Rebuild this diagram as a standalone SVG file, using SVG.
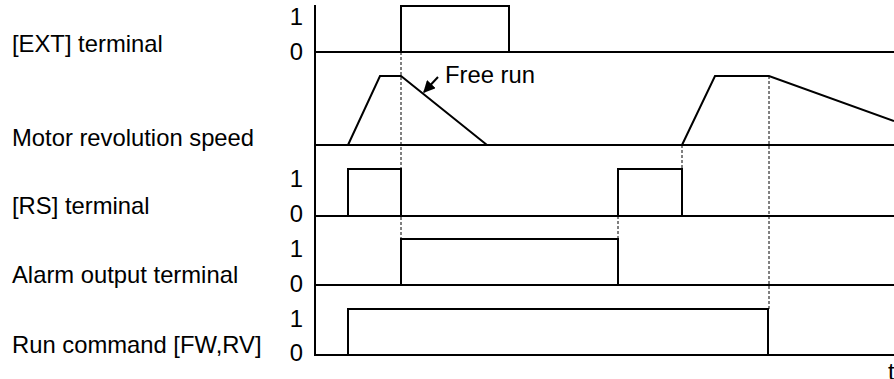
<svg xmlns="http://www.w3.org/2000/svg" width="894" height="379" viewBox="0 0 894 379">
<style>
text{font-family:"Liberation Sans",Arial,sans-serif;font-size:23.8px;fill:#000}
.d{text-anchor:end}
.w{fill:none;stroke:#000;stroke-width:2}
.dash{fill:none;stroke:#000;stroke-width:1;stroke-dasharray:3 2}
</style>
<defs>
<marker id="ah" viewBox="0 0 10 10" refX="9" refY="5" markerWidth="12" markerHeight="12" markerUnits="userSpaceOnUse" orient="auto">
<path d="M0,0 L10,5 L0,10 z" fill="#000"/>
</marker>
</defs>
<rect width="894" height="379" fill="#fff"/>
<g id="labels">
<text x="12" y="52">[EXT] terminal</text>
<text x="12" y="146">Motor revolution speed</text>
<text x="12" y="214">[RS] terminal</text>
<text x="12" y="283">Alarm output terminal</text>
<text x="12" y="353">Run command [FW,RV]</text>
<text class="d" x="303" y="25">1</text>
<text class="d" x="303" y="60">0</text>
<text class="d" x="303" y="187">1</text>
<text class="d" x="303" y="222">0</text>
<text class="d" x="303" y="257">1</text>
<text class="d" x="303" y="292">0</text>
<text class="d" x="303" y="327">1</text>
<text class="d" x="303" y="361">0</text>
<text x="888" y="380">t</text>
</g>
<g id="connectors">
<line class="dash" x1="401" y1="52" x2="401" y2="239"/>
<line class="dash" x1="682" y1="145" x2="682" y2="169"/>
<line class="dash" x1="618" y1="216" x2="618" y2="239"/>
<line class="dash" x1="769" y1="76" x2="769" y2="309"/>
<line x1="438" y1="77" x2="424" y2="92" stroke="#000" stroke-width="2" marker-end="url(#ah)"/>
</g>
<g id="axis">
<line class="w" x1="315" y1="5" x2="315" y2="356"/>
</g>
<g id="ext">
<line class="w" x1="315" y1="52" x2="894" y2="52"/>
<polyline class="w" points="401,52 401,6 509,6 509,52"/>
</g>
<g id="motor">
<line class="w" x1="315" y1="145" x2="894" y2="145"/>
<polyline class="w" points="348,145 380,76 401,76 487,145"/>
<polyline class="w" points="682,145 715,76 769,76 894,121"/>
</g>
<g id="free-run">
<text x="445" y="83">Free run</text>
</g>
<g id="rs">
<line class="w" x1="315" y1="216" x2="894" y2="216"/>
<polyline class="w" points="348,216 348,169 401,169 401,216"/>
<polyline class="w" points="618,216 618,169 682,169 682,216"/>
</g>
<g id="alarm">
<line class="w" x1="315" y1="285" x2="894" y2="285"/>
<polyline class="w" points="401,285 401,239 618,239 618,285"/>
</g>
<g id="run">
<line class="w" x1="315" y1="355" x2="894" y2="355"/>
<polyline class="w" points="348,355 348,309 768,309 768,355"/>
</g>
</svg>
